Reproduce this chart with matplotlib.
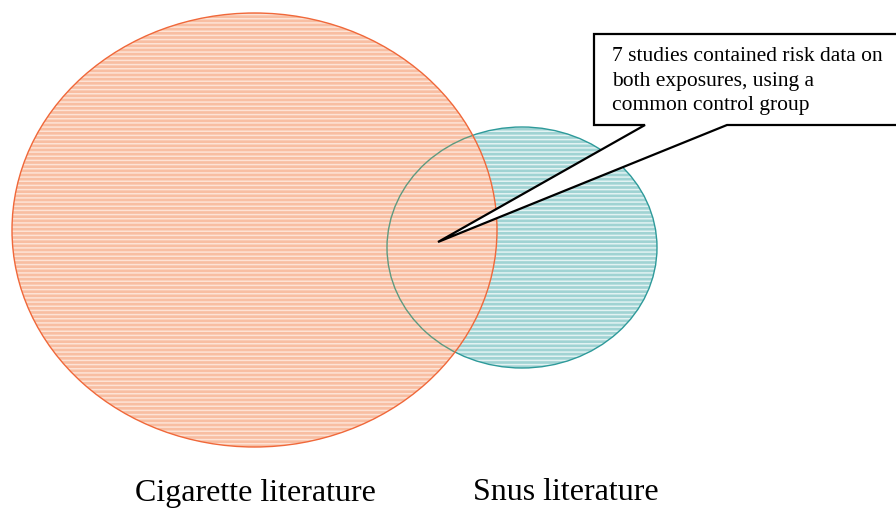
import matplotlib
matplotlib.use("Agg")
import matplotlib.pyplot as plt
from matplotlib.patches import Ellipse, Polygon

set_labels = ["Cigarette literature", "Snus literature"]
callout_lines = ["7 studies contained risk data on",
                 "both exposures, using a",
                 "common control group"]

plt.rcParams['hatch.linewidth'] = 1.1
fig = plt.figure(figsize=(8.96, 5.08), dpi=100)
ax = fig.add_axes([0, 0, 1, 1])
ax.set_xlim(0, 896)
ax.set_ylim(508, 0)
ax.axis('off')

def venn_fill(cx, cy, w, h, face, stripe, z):
    ax.add_patch(Ellipse((cx, cy), w, h, facecolor=face, edgecolor='none', zorder=z))
    ax.add_patch(Ellipse((cx, cy), w, h, facecolor='none', edgecolor=stripe, lw=0, hatch='----', zorder=z + 0.1))

snus = (522, 247.5, 270, 241)
cig = (254.5, 230, 485, 434)

venn_fill(*snus, '#A0D3D3', '#E2F2F2', 1)
ax.add_patch(Ellipse(snus[:2], snus[2], snus[3], facecolor='none', edgecolor='#2E9A9A', lw=1.0, zorder=1.2))
venn_fill(*cig, '#F8BEA2', '#FDE3D6', 2)
ax.add_patch(Ellipse(cig[:2], cig[2], cig[3], facecolor='none', edgecolor='#F0683A', lw=1.0, zorder=2.3))
# snus outline visible through the overlap
clip = Ellipse(cig[:2], cig[2], cig[3], transform=ax.transData, facecolor='none', edgecolor='none')
ax.add_patch(clip)
inner = Ellipse(snus[:2], snus[2], snus[3], facecolor='none', edgecolor='#5E9A80', lw=1.0, zorder=2.2)
ax.add_patch(inner)
inner.set_clip_path(clip)

# callout
pts = [(594, 34), (905, 34), (905, 125), (727, 125), (438, 242), (645, 125), (594, 125)]
ax.add_patch(Polygon(pts, closed=True, facecolor='white', edgecolor='black', lw=1.6, zorder=5, joinstyle='miter'))
ax.text(612, 47, "\n".join(callout_lines), ha='left', va='top', fontsize=15.5,
        family='Liberation Serif', linespacing=1.4, zorder=6)

ax.text(255.5, 493, set_labels[0], ha='center', va='center', fontsize=23, family='Liberation Serif')
ax.text(566, 493, set_labels[1], ha='center', va='center', fontsize=23, family='Liberation Serif')

fig.savefig("out.png", dpi=100)
